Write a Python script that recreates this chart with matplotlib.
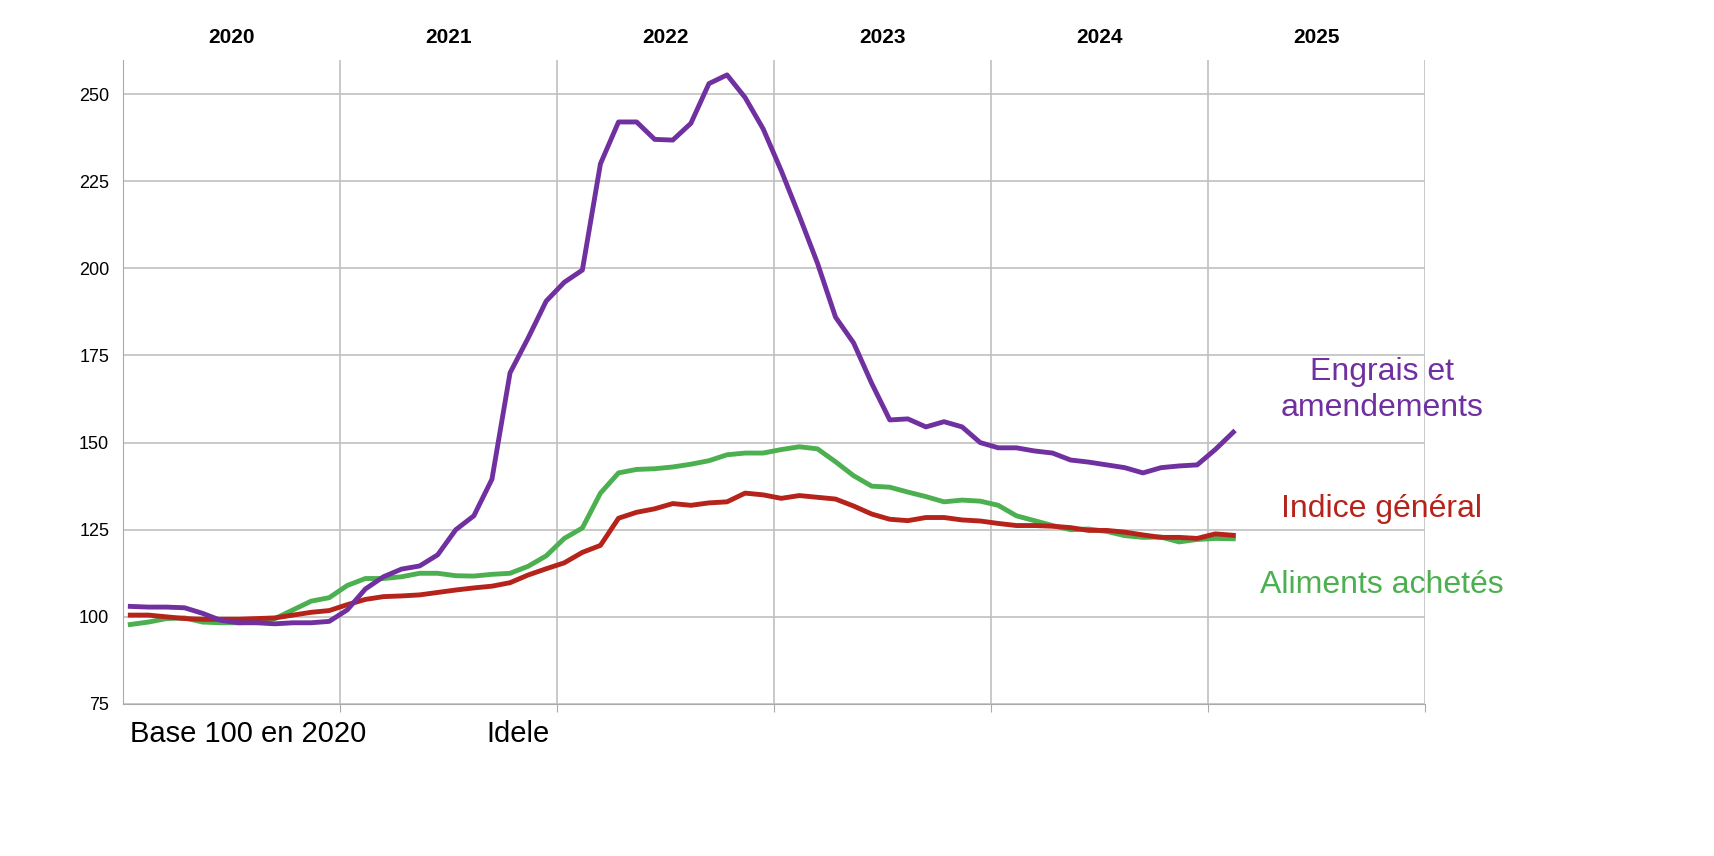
import numpy as np
import matplotlib.pyplot as plt

plt.rcParams["font.family"] = "Liberation Sans"

# monthly indices, Jan 2020 -> Feb 2025 (base 100 en 2020)
engrais = [103, 102.8, 102.8, 102.6, 101, 99, 98.3, 98.3, 98, 98.3, 98.3, 98.7,
           102, 108, 111.5, 113.7, 114.6, 117.8, 125, 129, 139.5, 170, 180, 190.6,
           196, 199.5, 230, 242, 242, 237, 236.8, 241.6, 253, 255.5, 249, 240,
           228, 215, 201.5, 186, 178.6, 167, 156.5, 156.8, 154.5, 156, 154.5, 150,
           148.5, 148.5, 147.6, 147, 145, 144.4, 143.6, 142.8, 141.3, 142.8, 143.3, 143.6,
           148, 153]
indice = [100.5, 100.5, 100, 99.5, 99.3, 99.3, 99.3, 99.5, 99.7, 100.5, 101.3, 101.8,
          103.5, 105, 105.8, 106, 106.3, 107, 107.7, 108.3, 108.8, 109.8, 112, 113.8,
          115.5, 118.5, 120.5, 128.3, 130, 131, 132.5, 132, 132.7, 133, 135.5, 135,
          134, 134.8, 134.3, 133.8, 131.8, 129.5, 128, 127.6, 128.5, 128.5, 127.8, 127.5,
          126.8, 126.2, 126.2, 126, 125.6, 124.8, 124.8, 124.3, 123.5, 122.8, 122.8, 122.5,
          123.8, 123.4]
aliments = [97.8, 98.5, 99.5, 99.7, 98.5, 98.3, 98.3, 98.5, 99.5, 102, 104.5, 105.5,
            109, 111, 111, 111.5, 112.5, 112.5, 111.8, 111.7, 112.2, 112.5, 114.5, 117.5,
            122.5, 125.5, 135.5, 141.3, 142.3, 142.5, 143, 143.8, 144.8, 146.5, 147, 147,
            148, 148.8, 148.2, 144.5, 140.5, 137.5, 137.2, 135.8, 134.5, 133, 133.5, 133.2,
            132, 129, 127.6, 126.2, 125, 125.2, 124.5, 123.3, 122.8, 122.9, 121.5, 122.2,
            122.5, 122.4]
years = ["2020", "2021", "2022", "2023", "2024", "2025"]
yticks = [75, 100, 125, 150, 175, 200, 225, 250]

x = 2020 + (np.arange(len(engrais)) + 0.4) / 12

fig = plt.figure(figsize=(17.14, 8.56), dpi=100)
ax = fig.add_axes([0.0718, 0.1776, 0.7596, 0.7524])

c_eng, c_ind, c_ali = "#7030a0", "#b5231a", "#4caf50"
ax.plot(x, aliments, color=c_ali, lw=3.5)
ax.plot(x, indice, color=c_ind, lw=3.5)
ax.plot(x, engrais, color=c_eng, lw=3.5)

ax.set_xlim(2020, 2026)
ax.set_ylim(75, 259.8)
ax.set_yticks(yticks)
ax.set_xticks(range(2021, 2027))
ax.set_xticklabels([])
ax.tick_params(axis="y", length=0, labelsize=13, pad=10)
ax.tick_params(axis="x", length=6, color="#aaaaaa")
ax.grid(True, color="#c0c0c0", lw=1.2)
ax.set_axisbelow(True)
for s in ["top", "right"]:
    ax.spines[s].set_visible(False)
for s in ["left", "bottom"]:
    ax.spines[s].set_color("#aaaaaa")

for i, yr in enumerate(years):
    ax.text(2020.5 + i, 1.035, yr, transform=ax.get_xaxis_transform(),
            ha="center", va="center", fontsize=15, fontweight="bold")

ax.text(2025.8, 165, "Engrais et\namendements", color=c_eng, fontsize=23,
        ha="center", va="center", linespacing=1.25)
ax.text(2025.8, 131, "Indice général", color=c_ind, fontsize=23, ha="center", va="center")
ax.text(2025.8, 109, "Aliments achetés", color=c_ali, fontsize=23, ha="center", va="center")

fig.text(0.076, 0.142, "Base 100 en 2020", fontsize=21, va="center")
fig.text(0.284, 0.142, "Idele", fontsize=21, va="center")

fig.savefig("out.png", dpi=100)
